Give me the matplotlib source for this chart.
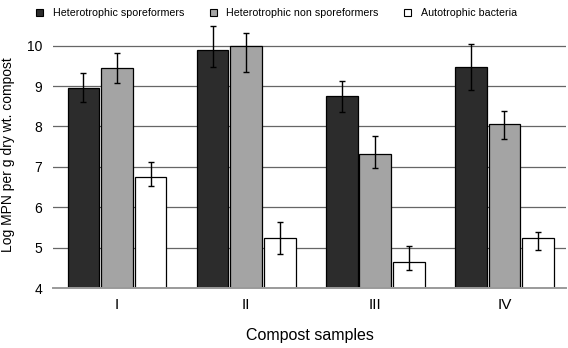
import numpy as np
import matplotlib.pyplot as plt
from matplotlib.patches import Patch

plt.rcParams['font.family'] = ['Liberation Sans', 'DejaVu Sans']

samples = ['I', 'II', 'III', 'IV']
series = ['Heterotrophic sporeformers', 'Heterotrophic non sporeformers',
          'Autotrophic bacteria']

# log MPN values, with upper / lower ends of the error bars
spore = [8.95, 9.89, 8.75, 9.47]
spore_hi = [9.33, 10.49, 9.12, 10.04]
spore_lo = [8.60, 9.47, 8.36, 8.90]

nonspore = [9.44, 10.0, 7.32, 8.05]
nonspore_hi = [9.83, 10.32, 7.77, 8.39]
nonspore_lo = [9.08, 9.35, 6.96, 7.68]

auto = [6.75, 5.25, 4.64, 5.24]
auto_hi = [7.13, 5.63, 5.03, 5.39]
auto_lo = [6.53, 4.84, 4.44, 4.95]

colors = ['#2c2c2c', '#a4a4a4', 'white']

fig = plt.figure(figsize=(5.68, 3.48), dpi=100, facecolor='white')
ax = fig.add_axes([53 / 568, 1 - 288 / 348, 513 / 568, (288 - 21.4) / 348])

x = np.arange(len(samples))
offs = [-0.26, 0.0, 0.26]
w = 0.245

data = [(spore, spore_hi, spore_lo),
        (nonspore, nonspore_hi, nonspore_lo),
        (auto, auto_hi, auto_lo)]

for i, (v, hi, lo) in enumerate(data):
    v = np.array(v)
    err = [v - np.array(lo), np.array(hi) - v]
    ax.bar(x + offs[i], v, w, color=colors[i], edgecolor='black',
           linewidth=0.9, zorder=2)
    ax.errorbar(x + offs[i], v, yerr=err, fmt='none', ecolor='black',
                elinewidth=1.0, capsize=2.2, capthick=1.0, zorder=3)

ax.set_xlim(-0.496, 3.477)
ax.set_ylim(4, 10.6)
ax.set_yticks(np.arange(4, 11, 1))
ax.set_xticks(x)
ax.set_xticklabels(samples, fontsize=11)

ax.grid(axis='y', color='#666666', linewidth=0.9, zorder=0)
ax.set_axisbelow(True)

for s in ['top', 'right', 'left']:
    ax.spines[s].set_visible(False)
ax.spines['bottom'].set_color('#9a9a9a')
ax.spines['bottom'].set_linewidth(1.4)

ax.tick_params(axis='y', length=0, pad=8, labelsize=10)
ax.tick_params(axis='x', length=0, pad=7)

ax.set_xlabel('Compost samples', fontsize=11.5, labelpad=12)
ax.set_ylabel('Log MPN per g dry wt. compost', fontsize=10, labelpad=8)

handles = [Patch(facecolor=c, edgecolor='black', linewidth=0.8) for c in colors]
fig.legend(handles, series, loc='center left', bbox_to_anchor=(36 / 568, 1 - 13 / 348),
           ncol=3, frameon=False, fontsize=7.7, handlelength=0.65,
           handleheight=0.65, handletextpad=0.9, columnspacing=2.4,
           borderpad=0, borderaxespad=0)

fig.savefig('out.png', dpi=100, facecolor='white')
